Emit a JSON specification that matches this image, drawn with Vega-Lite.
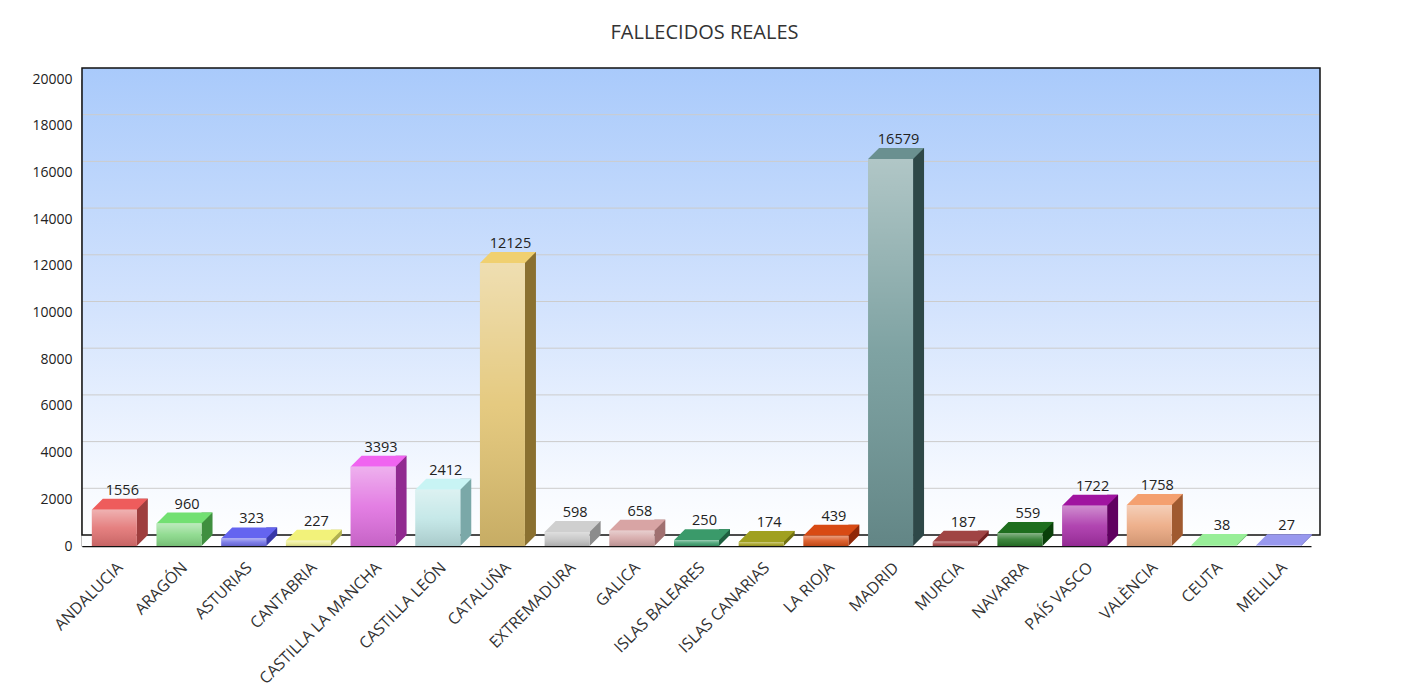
{
  "$schema": "https://vega.github.io/schema/vega-lite/v6.json",
  "width": 1229,
  "height": 467,
  "autosize": {"type": "none"},
  "padding": {"left": 82, "top": 79, "right": 96, "bottom": 149},
  "background": "white",
  "config": {
    "view": {"stroke": null},
    "font": "Open Sans",
    "axis": {"labelFont": "Open Sans", "labelColor": "#222"}
  },
  "title": {"text": "FALLECIDOS REALES", "fontSize": 20, "font": "Open Sans", "fontWeight": "normal", "color": "#333", "anchor": "middle", "dx": 8, "offset": 24},
  "datasets": {
    "d": [
      {"region": "ANDALUCIA", "value": 1556},
      {"region": "ARAGÓN", "value": 960},
      {"region": "ASTURIAS", "value": 323},
      {"region": "CANTABRIA", "value": 227},
      {"region": "CASTILLA LA MANCHA", "value": 3393},
      {"region": "CASTILLA LEÓN", "value": 2412},
      {"region": "CATALUÑA", "value": 12125},
      {"region": "EXTREMADURA", "value": 598},
      {"region": "GALICA", "value": 658},
      {"region": "ISLAS BALEARES", "value": 250},
      {"region": "ISLAS CANARIAS", "value": 174},
      {"region": "LA RIOJA", "value": 439},
      {"region": "MADRID", "value": 16579},
      {"region": "MURCIA", "value": 187},
      {"region": "NAVARRA", "value": 559},
      {"region": "PAÍS VASCO", "value": 1722},
      {"region": "VALÈNCIA", "value": 1758},
      {"region": "CEUTA", "value": 38},
      {"region": "MELILLA", "value": 27}
    ],
    "grid": [{"g": 2000}, {"g": 4000}, {"g": 6000}, {"g": 8000}, {"g": 10000}, {"g": 12000}, {"g": 14000}, {"g": 16000}, {"g": 18000}],
    "one": [{}]
  },
  "resolve": {"scale": {"color": "independent"}},
  "layer": [
    {
      "data": {"name": "one"},
      "mark": {"type": "rect", "clip": false, "xOffset": 0, "yOffset": 0, "y2Offset": -11,
        "fill": {"gradient": "linear", "x1": 0, "y1": 0, "x2": 0, "y2": 1,
          "stops": [{"offset": 0, "color": "#a9cafb"}, {"offset": 0.5, "color": "#d3e3fd"}, {"offset": 0.88, "color": "#f7faff"}, {"offset": 1, "color": "#ffffff"}]}},
      "encoding": {
        "y": {"datum": 0, "type": "quantitative", "scale": {"domain": [0, 20000], "nice": false},
          "axis": {"title": null, "values": [0, 2000, 4000, 6000, 8000, 10000, 12000, 14000, 16000, 18000, 20000], "format": "d", "labelFontSize": 14, "labelColor": "#222", "ticks": false, "grid": false, "domainColor": "#111", "domainWidth": 1.5, "labelPadding": 10}},
        "y2": {"datum": 20000}
      }
    },
    {
      "data": {"name": "one"},
      "mark": {"type": "rect", "clip": false, "xOffset": 9, "yOffset": 0, "y2Offset": -11,
        "fill": {"gradient": "linear", "x1": 0, "y1": 0, "x2": 0, "y2": 1,
          "stops": [{"offset": 0, "color": "#a9cafb"}, {"offset": 0.5, "color": "#d3e3fd"}, {"offset": 0.88, "color": "#f7faff"}, {"offset": 1, "color": "#ffffff"}]}},
      "encoding": {
        "y": {"datum": 0, "type": "quantitative"},
        "y2": {"datum": 20000}
      }
    },
    {
      "data": {"name": "grid"},
      "mark": {"type": "rule", "color": "#cccccc", "strokeWidth": 1, "xOffset": 9, "x2Offset": 9, "yOffset": -11},
      "encoding": {
        "y": {"field": "g", "type": "quantitative", "title": null}
      }
    },
    {
      "data": {"name": "one"},
      "mark": {"type": "rect", "fill": null, "stroke": "#111", "strokeWidth": 1.5, "xOffset": 9, "yOffset": -11, "y2Offset": -11},
      "encoding": {
        "y": {"datum": 0, "type": "quantitative"},
        "y2": {"datum": 20000}
      }
    },
    {
      "data": {"name": "d"},
      "mark": {"type": "bar", "width": 11, "xOffset": 28, "yOffset": -11, "y2Offset": -11},
      "encoding": {
        "x": {"field": "region", "type": "nominal", "sort": null, "scale": {"paddingInner": 0.3, "paddingOuter": 0.15},
          "axis": {"title": null, "labelAngle": -45, "labelFontSize": 16, "labelColor": "#333", "ticks": false, "domainColor": "#111", "domainWidth": 1.5, "labelPadding": 13}},
        "y": {"field": "value", "type": "quantitative", "title": null},
        "color": {"field": "region", "type": "nominal", "legend": null, "sort": null,
          "scale": {"domain": ["ANDALUCIA", "ARAGÓN", "ASTURIAS", "CANTABRIA", "CASTILLA LA MANCHA", "CASTILLA LEÓN", "CATALUÑA", "EXTREMADURA", "GALICA", "ISLAS BALEARES", "ISLAS CANARIAS", "LA RIOJA", "MADRID", "MURCIA", "NAVARRA", "PAÍS VASCO", "VALÈNCIA", "CEUTA", "MELILLA"],
            "range": ["#9e3e3e", "#3f8f3f", "#3838a8", "#b0b050", "#902a90", "#7aa8a8", "#8a7030", "#8c8c8c", "#a07070", "#1e6040", "#707010", "#902808", "#2e4848", "#702020", "#0a400a", "#600060", "#a05a30", "#70c070", "#7070c0"]}}
      }
    },
    {
      "data": {"name": "d"},
      "mark": {"type": "point", "filled": true, "opacity": 1, "size": 4, "strokeWidth": 0, "xOffset": 22.5, "shape": "M0,0 L0,-11 L11,-11 Z"},
      "encoding": {
        "x": {"field": "region", "type": "nominal", "sort": null},
        "y": {"datum": 0, "type": "quantitative"},
        "color": {"field": "region", "type": "nominal", "legend": null, "sort": null,
          "scale": {"domain": ["ANDALUCIA", "ARAGÓN", "ASTURIAS", "CANTABRIA", "CASTILLA LA MANCHA", "CASTILLA LEÓN", "CATALUÑA", "EXTREMADURA", "GALICA", "ISLAS BALEARES", "ISLAS CANARIAS", "LA RIOJA", "MADRID", "MURCIA", "NAVARRA", "PAÍS VASCO", "VALÈNCIA", "CEUTA", "MELILLA"],
            "range": ["#9e3e3e", "#3f8f3f", "#3838a8", "#b0b050", "#902a90", "#7aa8a8", "#8a7030", "#8c8c8c", "#a07070", "#1e6040", "#707010", "#902808", "#2e4848", "#702020", "#0a400a", "#600060", "#a05a30", "#70c070", "#7070c0"]}}
      }
    },
    {
      "data": {"name": "d"},
      "mark": {"type": "point", "filled": true, "opacity": 1, "size": 4, "strokeWidth": 0, "xOffset": -22.5, "shape": "M0,0 L45,0 L56,-11 L11,-11 Z"},
      "encoding": {
        "x": {"field": "region", "type": "nominal", "sort": null},
        "y": {"field": "value", "type": "quantitative", "title": null},
        "color": {"field": "region", "type": "nominal", "legend": null, "sort": null,
          "scale": {"domain": ["ANDALUCIA", "ARAGÓN", "ASTURIAS", "CANTABRIA", "CASTILLA LA MANCHA", "CASTILLA LEÓN", "CATALUÑA", "EXTREMADURA", "GALICA", "ISLAS BALEARES", "ISLAS CANARIAS", "LA RIOJA", "MADRID", "MURCIA", "NAVARRA", "PAÍS VASCO", "VALÈNCIA", "CEUTA", "MELILLA"],
            "range": ["#ee5c5c", "#72e072", "#6464f0", "#f2f27a", "#f064f0", "#c8f4f4", "#f0d070", "#cfcfcf", "#d8a4a4", "#3a9a6a", "#a0a020", "#d84a14", "#6a9090", "#a04444", "#1e6e1e", "#a014a0", "#f4a070", "#98ee98", "#9898ee"]}}
      }
    },
    {
      "data": {"name": "d"},
      "mark": {"type": "bar", "width": 45},
      "encoding": {
        "x": {"field": "region", "type": "nominal", "sort": null},
        "y": {"field": "value", "type": "quantitative", "title": null},
        "color": {"field": "region", "type": "nominal", "legend": null, "sort": null,
          "scale": {"domain": ["ANDALUCIA", "ARAGÓN", "ASTURIAS", "CANTABRIA", "CASTILLA LA MANCHA", "CASTILLA LEÓN", "CATALUÑA", "EXTREMADURA", "GALICA", "ISLAS BALEARES", "ISLAS CANARIAS", "LA RIOJA", "MADRID", "MURCIA", "NAVARRA", "PAÍS VASCO", "VALÈNCIA", "CEUTA", "MELILLA"],
            "range": ["#e27272", "#86d886", "#7070e6", "#ecec90", "#e070e0", "#c0e6e6", "#e2c472", "#c4c4c4", "#d4a6a6", "#3e9e6e", "#a8a424", "#d85018", "#709898", "#a84848", "#287828", "#a830a8", "#eca880", "#a0f0a0", "#a0a0f0"]}}
      }
    },
    {
      "data": {"name": "d"},
      "mark": {"type": "bar", "width": 45,
        "fill": {"gradient": "linear", "x1": 0, "y1": 0, "x2": 0, "y2": 1,
          "stops": [{"offset": 0, "color": "rgba(255,255,255,0.45)"}, {"offset": 0.5, "color": "rgba(255,255,255,0.1)"}, {"offset": 1, "color": "rgba(0,0,0,0.12)"}]}},
      "encoding": {
        "x": {"field": "region", "type": "nominal", "sort": null},
        "y": {"field": "value", "type": "quantitative", "title": null}
      }
    },
    {
      "data": {"name": "d"},
      "mark": {"type": "text", "xOffset": 8, "yOffset": -15, "baseline": "alphabetic", "fontSize": 14.5, "font": "Open Sans", "fill": "#222"},
      "encoding": {
        "x": {"field": "region", "type": "nominal", "sort": null},
        "y": {"field": "value", "type": "quantitative", "title": null},
        "text": {"field": "value", "type": "quantitative", "format": "d"}
      }
    }
  ]
}
